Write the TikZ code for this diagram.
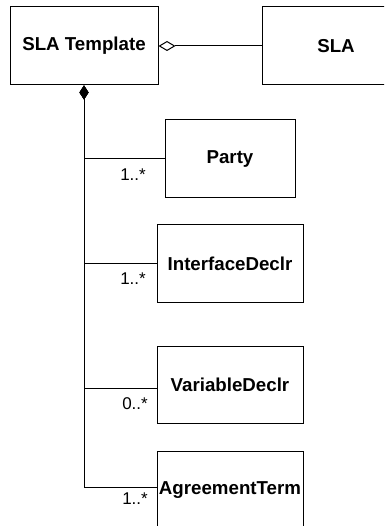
\documentclass[tikz,border=0pt]{standalone}
\usepackage{fontspec}
\setmainfont{Liberation Sans}
\usetikzlibrary{arrows.meta,positioning}

\begin{document}
\begin{tikzpicture}[x=1pt, y=-1pt,
  classbox/.style={draw=black, line width=1pt, fill=white, inner sep=0pt, font=\bfseries\fontsize{18.7}{22}\selectfont},
  mult/.style={anchor=east, inner sep=0pt, font=\fontsize{17}{20}\selectfont},
  compo/.style={line width=1pt, {Diamond[length=14pt, width=9pt]}-},
  aggr/.style={line width=1pt, {Diamond[open, length=17pt, width=10pt, line width=1pt]}-}]

% ===== FRAME =====
\useasboundingbox (0,0) rectangle (384,526);
\clip (0,0) rectangle (384,526);
\fill[white] (0,0) rectangle (384,526);

% ===== TOP ROW: template and SLA =====
\node[classbox, minimum width=148pt, minimum height=78pt] (tmpl) at (84, 46) {SLA Template};
\node[classbox, minimum width=148pt, minimum height=78pt] (sla) at (336, 46) {SLA};

% Aggregation
\draw[aggr] (tmpl.east) -- (sla.west);

% ===== PARTS =====
\node[classbox, minimum width=130pt, minimum height=78pt] (party) at (230, 159) {Party};
\node[classbox, minimum width=146pt, minimum height=77pt] (iface) at (230, 263.5) {InterfaceDeclr};
\node[classbox, minimum width=146pt, minimum height=77pt] (var) at (230, 384.5) {VariableDeclr};
\node[classbox, minimum width=146pt, minimum height=78pt] (agree) at (230, 490) {AgreementTerm};

% Compositions
\draw[compo] (tmpl.south) |- (party.west);
\draw[compo] (tmpl.south) |- (iface.west);
\draw[compo] (tmpl.south) |- ([yshift=-3.5pt]var.west);
\draw[compo] (tmpl.south) |- ([yshift=3pt]agree.west);

% Multiplicities
\node[mult] (mparty) at (146, 175) {1..*};
\node[mult] (miface) at (146, 279) {1..*};
\node[mult] (mvar) at (148, 404) {0..*};
\node[mult] (magree) at (148, 499) {1..*};

\end{tikzpicture}
\end{document}
